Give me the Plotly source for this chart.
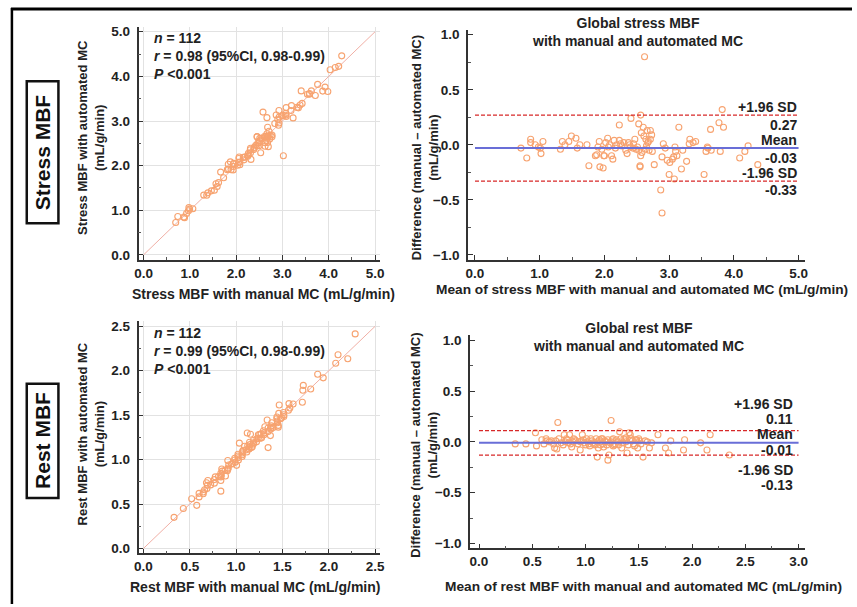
import plotly.graph_objects as go

W, H = 857, 607
FONT = "Liberation Sans, Arial, sans-serif"
ORANGE = "rgb(247,163,112)"

# Bland-Altman data: mean and difference (manual - automated)
stress_mean = [0.71, 0.80, 0.86, 0.86, 0.93, 0.98, 1.01, 1.02, 1.05,
               1.32, 1.35, 1.39, 1.45, 1.49, 1.56, 1.58, 1.62, 1.73, 1.76,
               1.86, 1.88, 1.92, 1.93, 1.96, 1.98, 1.99, 2.00, 2.05, 2.06, 2.08, 2.11, 2.13, 2.15,
               2.19, 2.23, 2.23, 2.25, 2.30, 2.33, 2.35, 2.37, 2.41, 2.44, 2.47, 2.49, 2.53, 2.53,
               2.55, 2.55, 2.56, 2.56, 2.57, 2.60, 2.61, 2.62, 2.63, 2.64, 2.66, 2.67, 2.69, 2.71,
               2.71, 2.73, 2.74, 2.77,
               2.87, 2.89, 2.91, 2.89, 2.97, 3.00, 3.01, 3.05, 3.07, 3.08, 3.09, 3.10, 3.12, 3.15,
               3.19, 3.21, 3.27, 3.31, 3.32, 3.37, 3.41, 3.54, 3.57, 3.59, 3.60, 3.64, 3.65, 3.77,
               3.79, 3.82, 3.84, 4.09, 4.17, 4.22, 4.37,
               2.17, 2.27, 2.39, 2.45, 2.51, 2.58, 2.65, 2.68, 2.02, 2.40, 1.90, 2.94]
stress_diff = [-0.03, -0.12, 0.05, 0.02, 0.00, -0.02, -0.03, -0.08, 0.03,
               -0.04, 0.03, 0.00, 0.03, 0.08, 0.06, -0.03, 0.00, 0.00, -0.19,
               -0.10, -0.09, 0.03, -0.20, -0.04, -0.21, -0.10, -0.10, 0.06, -0.02, 0.00, -0.10, -0.13, 0.04,
               0.00, 0.18, 0.04, 0.01, 0.02, -0.05, -0.08, 0.02, 0.24, -0.03, 0.05, -0.04, 0.19, -0.05,
               -0.19, -0.20, 0.27, -0.10, 0.11, 0.16, 0.08, 0.80, -0.04, 0.05, 0.13, 0.02, -0.05, 0.13,
               0.05, 0.09, -0.06, -0.18,
               -0.41, -0.62, 0.01, -0.11, -0.14, -0.27, -0.16, -0.13, -0.11, -0.31, -0.02, -0.06, -0.10, 0.16,
               -0.22, -0.05, -0.15, 0.01, 0.05, 0.02, 0.03, -0.27, -0.06, -0.02, -0.03, 0.14, -0.05, 0.20,
               -0.06, 0.32, 0.16, -0.12, -0.06, -0.01, -0.18,
               -0.03, -0.01, 0.00, 0.01, -0.02, -0.07, -0.01, 0.03, 0.02, -0.02, -0.02, -0.03]

rest_mean = [0.34, 0.44, 0.53, 0.54, 0.59, 0.61, 0.63, 0.64, 0.66, 0.70, 0.71, 0.73, 0.74, 0.75,
             0.80, 0.81, 0.82, 0.84, 0.85, 0.86, 0.87, 0.89, 0.91, 0.95, 0.96, 0.97, 0.99, 1.01,
             1.03, 1.05, 1.07, 1.09, 1.10, 1.11, 1.12, 1.14, 1.15, 1.16, 1.17, 1.19, 1.21, 1.22,
             1.24, 1.24, 1.26, 1.27, 1.29, 1.32, 1.34, 1.36, 1.38, 1.39, 1.41, 1.42, 1.43, 1.45,
             1.47, 1.49, 1.51, 1.54, 1.58, 1.60, 1.68, 1.75, 1.78, 1.80, 1.92, 1.93, 2.08, 2.14,
             2.17, 2.35,
             0.68, 0.77, 0.88, 0.93, 0.98, 1.02, 1.06, 1.08, 1.13, 1.18, 1.20, 1.23, 1.25, 1.28,
             1.30, 1.33, 1.35, 1.37, 1.40, 1.44, 1.46, 1.48, 1.52, 1.56, 1.62, 0.72, 0.79, 0.90,
             1.00, 1.11, 1.16, 1.21, 1.26, 1.31, 0.83, 0.95, 1.04, 1.14, 1.38, 1.50]
rest_diff = [-0.02, -0.02, 0.09, -0.04, 0.02, -0.02, 0.03, 0.01, 0.00, -0.02, -0.06, -0.07, 0.19, 0.03,
             0.07, 0.00, 0.03, -0.01, 0.07, -0.02, -0.05, 0.03, 0.01, -0.08, 0.01, 0.07, -0.01, 0.03,
             -0.02, 0.03, -0.01, -0.03, 0.03, -0.15, -0.06, 0.00, 0.03, -0.02, -0.05, 0.00, -0.18, -0.13,
             0.21, 0.00, 0.03, -0.03, 0.02, 0.10, -0.06, 0.03, 0.00, -0.11, 0.09, 0.07, 0.03, -0.02,
             0.02, -0.06, 0.01, -0.15, 0.00, -0.06, 0.07, -0.06, -0.11, 0.01, -0.08, 0.02, -0.01, -0.08,
             0.07, -0.13,
             0.01, -0.01, 0.00, -0.02, 0.02, 0.00, 0.01, -0.02, 0.02, 0.01, -0.03, -0.01, 0.02, -0.02,
             0.00, 0.03, -0.01, 0.02, -0.03, 0.01, -0.04, 0.02, -0.02, 0.01, -0.01, 0.01, -0.03, 0.02,
             -0.03, 0.00, 0.03, 0.02, -0.04, -0.03, 0.02, 0.00, -0.04, -0.03, 0.04, 0.03]

stress_upper, stress_bias, stress_lower = 0.27, -0.03, -0.33
rest_upper, rest_bias, rest_lower = 0.11, -0.01, -0.13

stress_manual = [m + d / 2 for m, d in zip(stress_mean, stress_diff)]
stress_auto = [m - d / 2 for m, d in zip(stress_mean, stress_diff)]
rest_manual = [m + d / 2 for m, d in zip(rest_mean, rest_diff)]
rest_auto = [m - d / 2 for m, d in zip(rest_mean, rest_diff)]


def px(x):
    return x / W


def py(y):
    return 1 - y / H


def axis(dom, rng, dtick, minor, grid, anchor, is_y=False):
    a = dict(domain=dom, range=rng, anchor=anchor, tickmode="linear", tick0=0, dtick=dtick,
             tickformat=".1f", showline=True, linecolor="#333", linewidth=1.5,
             ticks="inside", ticklen=5, tickcolor="#333", tickwidth=1.2,
             minor=dict(dtick=minor, tick0=0, ticks="inside", ticklen=3, tickcolor="#555", showgrid=False),
             showgrid=grid, gridcolor="#e2e2e2", gridwidth=1, zeroline=False,
             tickfont=dict(family=FONT, size=13.5, color="#222", weight="bold"))
    if is_y:
        a["ticklabelstandoff"] = 4
    return a


def marker_trace(x, y, xa, ya):
    return go.Scatter(x=x, y=y, mode="markers", xaxis=xa, yaxis=ya, showlegend=False,
                      marker=dict(symbol="circle-open", size=6, color=ORANGE, line=dict(width=1.1)))


fig = go.Figure()

# identity lines
fig.add_trace(go.Scatter(x=[0, 5], y=[0, 5], mode="lines", xaxis="x", yaxis="y", showlegend=False,
                         line=dict(color="rgb(240,175,165)", width=1)))
fig.add_trace(go.Scatter(x=[0, 2.5], y=[0, 2.5], mode="lines", xaxis="x3", yaxis="y3", showlegend=False,
                         line=dict(color="rgb(240,175,165)", width=1)))

fig.add_trace(marker_trace(stress_manual, stress_auto, "x", "y"))
fig.add_trace(marker_trace(stress_mean, stress_diff, "x2", "y2"))
fig.add_trace(marker_trace(rest_manual, rest_auto, "x3", "y3"))
fig.add_trace(marker_trace(rest_mean, rest_diff, "x4", "y4"))

# bias and limits of agreement
for xa, ya, xmax, vals in [("x2", "y2", 5, (stress_upper, stress_bias, stress_lower)),
                           ("x4", "y4", 3, (rest_upper, rest_bias, rest_lower))]:
    up, bias, lo = vals
    for v, col, dash, w in [(up, "rgb(215,40,40)", "4px,2px", 1.3), (lo, "rgb(215,40,40)", "4px,2px", 1.3),
                            (bias, "rgb(105,110,215)", "solid", 2)]:
        fig.add_shape(type="line", xref=xa, yref=ya, x0=0, x1=xmax, y0=v, y1=v,
                      line=dict(color=col, dash=dash, width=w))

fig.update_layout(
    width=W, height=H, margin=dict(l=0, r=0, t=0, b=0),
    paper_bgcolor="white", plot_bgcolor="white",
    xaxis=axis([px(136), px(380)], [-0.107, 5.107], 1, 0.5, True, "y"),
    yaxis=axis([py(260), py(25)], [-0.111, 5.111], 1, 0.5, True, "x", True),
    xaxis2=axis([px(469), px(810)], [-0.107, 5.107], 1, 0.5, False, "y2"),
    yaxis2=axis([py(260), py(28)], [-1.045, 1.045], 0.5, 0.25, False, "x2", True),
    xaxis3=axis([px(136), px(380)], [-0.053, 2.553], 0.5, 0.25, True, "y3"),
    yaxis3=axis([py(556), py(322)], [-0.056, 2.556], 0.5, 0.25, True, "x3", True),
    xaxis4=axis([px(471), px(810)], [-0.084, 3.065], 0.5, 0.25, False, "y4"),
    yaxis4=axis([py(551), py(336)], [-1.049, 1.049], 0.5, 0.25, False, "x4", True),
)

bold = dict(family=FONT, size=13, color="#222", weight="bold")
bold14 = dict(family=FONT, size=14, color="#222", weight="bold")
ann = []


def text(x, y, s, rot=0, xanchor="center", yanchor="middle", align="center", font=bold14):
    ann.append(dict(x=px(x), y=py(y), xref="paper", yref="paper", text=s, showarrow=False,
                    textangle=rot, xanchor=xanchor, yanchor=yanchor, align=align, font=font))


# axis titles
text(262, 294, "Stress MBF with manual MC (mL/g/min)")
text(88, 137, "Stress MBF with automated MC<br>(mL/g/min)", rot=-90, font=bold)
text(645, 290, "Mean of stress MBF with manual and automated MC (mL/g/min)", font=dict(bold14, size=13.7))
text(425, 147, "Difference (manual \u2013 automated MC)<br>(mL/g/min)", rot=-90, font=bold)
text(254, 590, "Rest MBF with manual MC (mL/g/min)")
text(88, 436, "Rest MBF with automated MC<br>(mL/g/min)", rot=-90, font=bold)
text(646, 589, "Mean of rest MBF with manual and automated MC (mL/g/min)", font=dict(bold14, size=13.7))
text(425, 447, "Difference (manual \u2013 automated MC)<br>(mL/g/min)", rot=-90, font=bold)

# panel titles
text(640, 30, "Global stress MBF<br>with manual and automated MC")
text(641, 338, "Global rest MBF<br>with manual and automated MC")

# correlation stats
text(150, 26, "<i>n</i> = 112<br><i>r</i> = 0.98 (95%CI, 0.98-0.99)<br><i>P</i> <0.001",
     xanchor="left", yanchor="top", align="left")
text(150, 324, "<i>n</i> = 112<br><i>r</i> = 0.99 (95%CI, 0.98-0.99)<br><i>P</i> <0.001",
     xanchor="left", yanchor="top", align="left")

# limit labels
for yy, s in [(106, "+1.96 SD"), (124, f"{stress_upper:.2f}"), (139, "Mean"), (157, f"{stress_bias:.2f}"),
              (172, "-1.96 SD"), (190, f"{stress_lower:.2f}")]:
    text(803, yy, s, xanchor="right")
for yy, s in [(405, "+1.96 SD"), (420, f"{rest_upper:.2f}"), (436, "Mean"), (452, f"{rest_bias:.2f}"),
              (472, "-1.96 SD"), (487, f"{rest_lower:.2f}")]:
    text(799, yy, s, xanchor="right")

# row labels
big = dict(family=FONT, size=21, color="#111", weight="bold")
text(39, 152, "Stress MBF", rot=-90, font=big)
text(39, 442, "Rest MBF", rot=-90, font=big)

fig.update_layout(annotations=ann)

shapes = [
    dict(type="rect", xref="paper", yref="paper", x0=px(23), x1=px(55), y0=py(223), y1=py(80),
         line=dict(color="#111", width=2.5)),
    dict(type="rect", xref="paper", yref="paper", x0=px(23), x1=px(55), y0=py(500), y1=py(385),
         line=dict(color="#111", width=2.5)),
    dict(type="line", xref="paper", yref="paper", x0=px(7), x1=1, y0=py(7), y1=py(7),
         line=dict(color="#000", width=3)),
    dict(type="line", xref="paper", yref="paper", x0=px(8), x1=px(8), y0=py(6), y1=0,
         line=dict(color="#000", width=2.5)),
]
for s in shapes:
    fig.add_shape(**s)

fig.write_html("out.html", config={"displayModeBar": False},
               post_script="document.body.style.margin='0';")
